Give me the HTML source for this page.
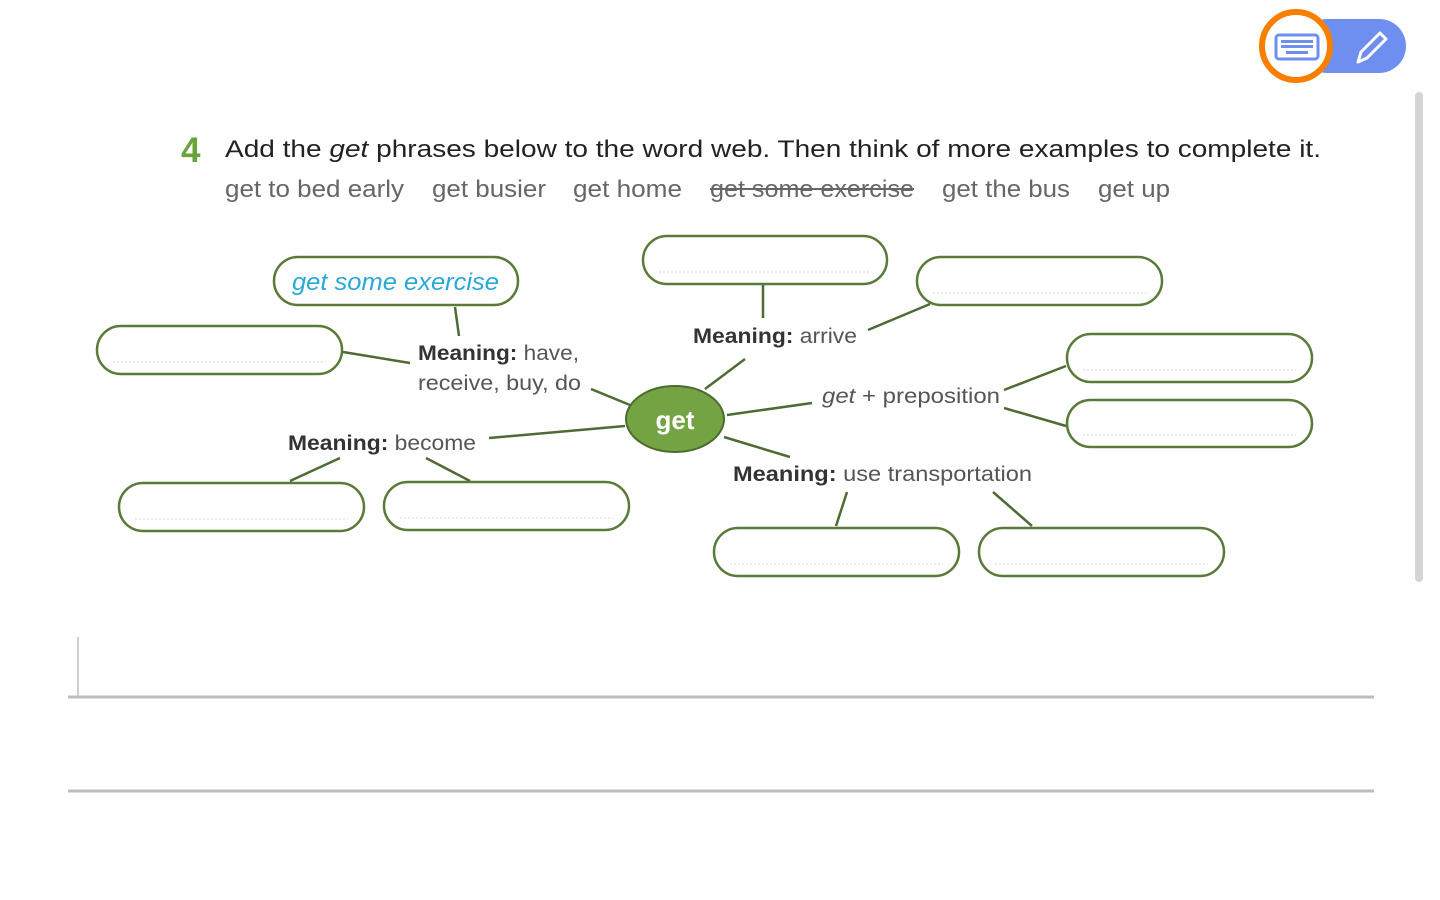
<!DOCTYPE html>
<html><head><meta charset="utf-8"><style>
html,body{margin:0;padding:0;background:#fff;width:1440px;height:900px;overflow:hidden}
svg{display:block}
text{font-family:"Liberation Sans",sans-serif}
</style></head><body>
<svg width="1440" height="900" viewBox="0 0 1440 900" xmlns="http://www.w3.org/2000/svg">
<!-- toolbar button -->
<rect x="1300" y="19" width="106" height="54" rx="27" fill="#6f8ff0"/>
<circle cx="1296" cy="46" r="34" fill="#fff" stroke="#f77f00" stroke-width="6"/>
<rect x="1276" y="35" width="42" height="24" rx="3" fill="#fff" stroke="#6f8ff0" stroke-width="3"/>
<g fill="#6f8ff0"><rect x="1281" y="40" width="32" height="3"/><rect x="1281" y="45" width="32" height="3"/><rect x="1286" y="51" width="22" height="3"/></g>
<path d="M1358 62 L1361 52 L1380 33 L1386 39 L1367 58 Z" fill="none" stroke="#fff" stroke-width="3" stroke-linejoin="round"/>
<!-- scrollbar -->
<rect x="1415" y="92" width="8" height="490" rx="4" fill="#d4d4d4"/>
<!-- header -->
<text x="181" y="162" font-size="35" font-weight="bold" fill="#6aa33c">4</text>
<text x="225" y="157" font-size="24" fill="#222" textLength="1096" lengthAdjust="spacingAndGlyphs">Add the <tspan font-style="italic">get</tspan> phrases below to the word web. Then think of more examples to complete it.</text>
<g font-size="24" fill="#666">
<text x="225" y="197" textLength="179" lengthAdjust="spacingAndGlyphs">get to bed early</text>
<text x="432" y="197" textLength="114" lengthAdjust="spacingAndGlyphs">get busier</text>
<text x="573" y="197" textLength="109" lengthAdjust="spacingAndGlyphs">get home</text>
<text x="710" y="197" textLength="204" lengthAdjust="spacingAndGlyphs">get some exercise</text>
<text x="942" y="197" textLength="128" lengthAdjust="spacingAndGlyphs">get the bus</text>
<text x="1098" y="197" textLength="72" lengthAdjust="spacingAndGlyphs">get up</text>
</g>
<line x1="710" y1="189" x2="914" y2="189" stroke="#666" stroke-width="2"/>
<!-- connectors -->
<g stroke="#4f6b35" stroke-width="2.5" fill="none">
<line x1="455" y1="307" x2="459" y2="336"/>
<line x1="343" y1="352" x2="410" y2="363"/>
<line x1="591" y1="389" x2="630" y2="405"/>
<line x1="763" y1="284" x2="763" y2="318"/>
<line x1="868" y1="330" x2="930" y2="304"/>
<line x1="705" y1="389" x2="745" y2="359"/>
<line x1="727" y1="415" x2="812" y2="403"/>
<line x1="1004" y1="390" x2="1066" y2="366"/>
<line x1="1004" y1="408" x2="1066" y2="426"/>
<line x1="724" y1="437" x2="790" y2="457"/>
<line x1="625" y1="426" x2="489" y2="438"/>
<line x1="290" y1="481" x2="340" y2="458"/>
<line x1="470" y1="481" x2="426" y2="458"/>
<line x1="836" y1="526" x2="847" y2="492"/>
<line x1="1032" y1="526" x2="993" y2="492"/>
</g>
<!-- pills -->
<g fill="#fff" stroke="#5a7a3a" stroke-width="2.5">
<rect x="274" y="257" width="244" height="48" rx="24"/>
<rect x="97" y="326" width="245" height="48" rx="24"/>
<rect x="643" y="236" width="244" height="48" rx="24"/>
<rect x="917" y="257" width="245" height="48" rx="24"/>
<rect x="1067" y="334" width="245" height="48" rx="24"/>
<rect x="1067" y="400" width="245" height="47" rx="23.5"/>
<rect x="119" y="483" width="245" height="48" rx="24"/>
<rect x="384" y="482" width="245" height="48" rx="24"/>
<rect x="714" y="528" width="245" height="48" rx="24"/>
<rect x="979" y="528" width="245" height="48" rx="24"/>
</g>
<g stroke="#d8d8d8" stroke-width="1" stroke-dasharray="2 2">
<line x1="113" y1="362" x2="326" y2="362"/>
<line x1="659" y1="272" x2="871" y2="272"/>
<line x1="933" y1="293" x2="1146" y2="293"/>
<line x1="1083" y1="370" x2="1296" y2="370"/>
<line x1="1083" y1="435" x2="1296" y2="435"/>
<line x1="135" y1="519" x2="348" y2="519"/>
<line x1="400" y1="518" x2="613" y2="518"/>
<line x1="730" y1="564" x2="943" y2="564"/>
<line x1="995" y1="564" x2="1208" y2="564"/>
</g>
<text x="292" y="290" font-size="24" font-style="italic" fill="#29a8d8" textLength="207" lengthAdjust="spacingAndGlyphs">get some exercise</text>
<!-- center -->
<ellipse cx="675" cy="419" rx="49" ry="33" fill="#74a343" stroke="#4d6b2e" stroke-width="2"/>
<text x="675" y="429" font-size="26" font-weight="bold" fill="#fff" text-anchor="middle" font-family="Liberation Serif, serif">get</text>
<!-- labels -->
<g font-size="21" fill="#555">
<text x="418" y="360" textLength="161" lengthAdjust="spacingAndGlyphs"><tspan font-weight="bold" fill="#333">Meaning:</tspan> have,</text>
<text x="418" y="390" textLength="163" lengthAdjust="spacingAndGlyphs">receive, buy, do</text>
<text x="693" y="343" textLength="164" lengthAdjust="spacingAndGlyphs"><tspan font-weight="bold" fill="#333">Meaning:</tspan> arrive</text>
<text x="822" y="403" textLength="178" lengthAdjust="spacingAndGlyphs"><tspan font-style="italic">get</tspan> + preposition</text>
<text x="288" y="450" textLength="188" lengthAdjust="spacingAndGlyphs"><tspan font-weight="bold" fill="#333">Meaning:</tspan> become</text>
<text x="733" y="481" textLength="299" lengthAdjust="spacingAndGlyphs"><tspan font-weight="bold" fill="#333">Meaning:</tspan> use transportation</text>
</g>
<!-- bottom lines -->
<line x1="78" y1="637" x2="78" y2="697" stroke="#cfcfcf" stroke-width="2"/>
<line x1="68" y1="697" x2="1374" y2="697" stroke="#bdbdbd" stroke-width="3"/>
<line x1="68" y1="791" x2="1374" y2="791" stroke="#bdbdbd" stroke-width="3"/>
</svg>
</body></html>
